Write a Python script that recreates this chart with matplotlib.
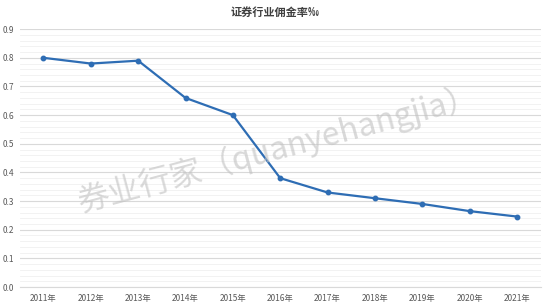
import matplotlib
matplotlib.use("Agg")
import matplotlib.pyplot as plt
import numpy as np

plt.rcParams['font.family'] = ['Noto Sans CJK SC', 'DejaVu Sans']

# data
years = ["2011年", "2012年", "2013年", "2014年", "2015年", "2016年",
         "2017年", "2018年", "2019年", "2020年", "2021年"]
rates = [0.80, 0.78, 0.79, 0.66, 0.60, 0.38, 0.33, 0.31, 0.29, 0.265, 0.246]

fig = plt.figure(figsize=(5.5, 3.07), dpi=100)
ax = fig.add_axes([0.036, 0.065, 0.947, 0.84])

x = np.arange(len(years))
ax.plot(x, rates, color="#2E6DB4", linewidth=1.6, marker="o", markersize=3.2, zorder=3)

ax.set_xlim(-0.5, len(years) - 0.5)
ax.set_ylim(0, 0.9)
ax.set_yticks(np.arange(0, 0.91, 0.1))
ax.set_yticklabels([f"{v:.1f}" for v in np.arange(0, 0.91, 0.1)])
ax.set_yticks(np.arange(0, 0.9, 0.02), minor=True)
ax.set_xticks(x)
ax.set_xticklabels(years)

ax.grid(axis="y", which="major", color="#d9d9d9", linewidth=0.8)
ax.grid(axis="y", which="minor", color="#f0f0f0", linewidth=0.6)
ax.set_axisbelow(True)
for s in ax.spines.values():
    s.set_visible(False)
ax.spines["bottom"].set_visible(True)
ax.spines["bottom"].set_color("#d9d9d9")
ax.tick_params(axis="both", which="both", length=0, labelsize=6, labelcolor="#595959")
ax.tick_params(axis="y", pad=4)
ax.tick_params(axis="x", pad=5)

fig.text(0.5, 0.958, "证券行业佣金率‰", ha="center", va="center",
         fontsize=8, fontweight="bold", color="#404040")

# watermark
fig.text(0.505, 0.515, "券业行家（quanyehangjia）", ha="center", va="center",
         fontsize=23, color="#c0c0c0", alpha=0.6, rotation=15,
         family=["Noto Sans CJK SC", "DejaVu Sans"], fontweight="light")

fig.savefig("out.png", dpi=100, facecolor="white")
